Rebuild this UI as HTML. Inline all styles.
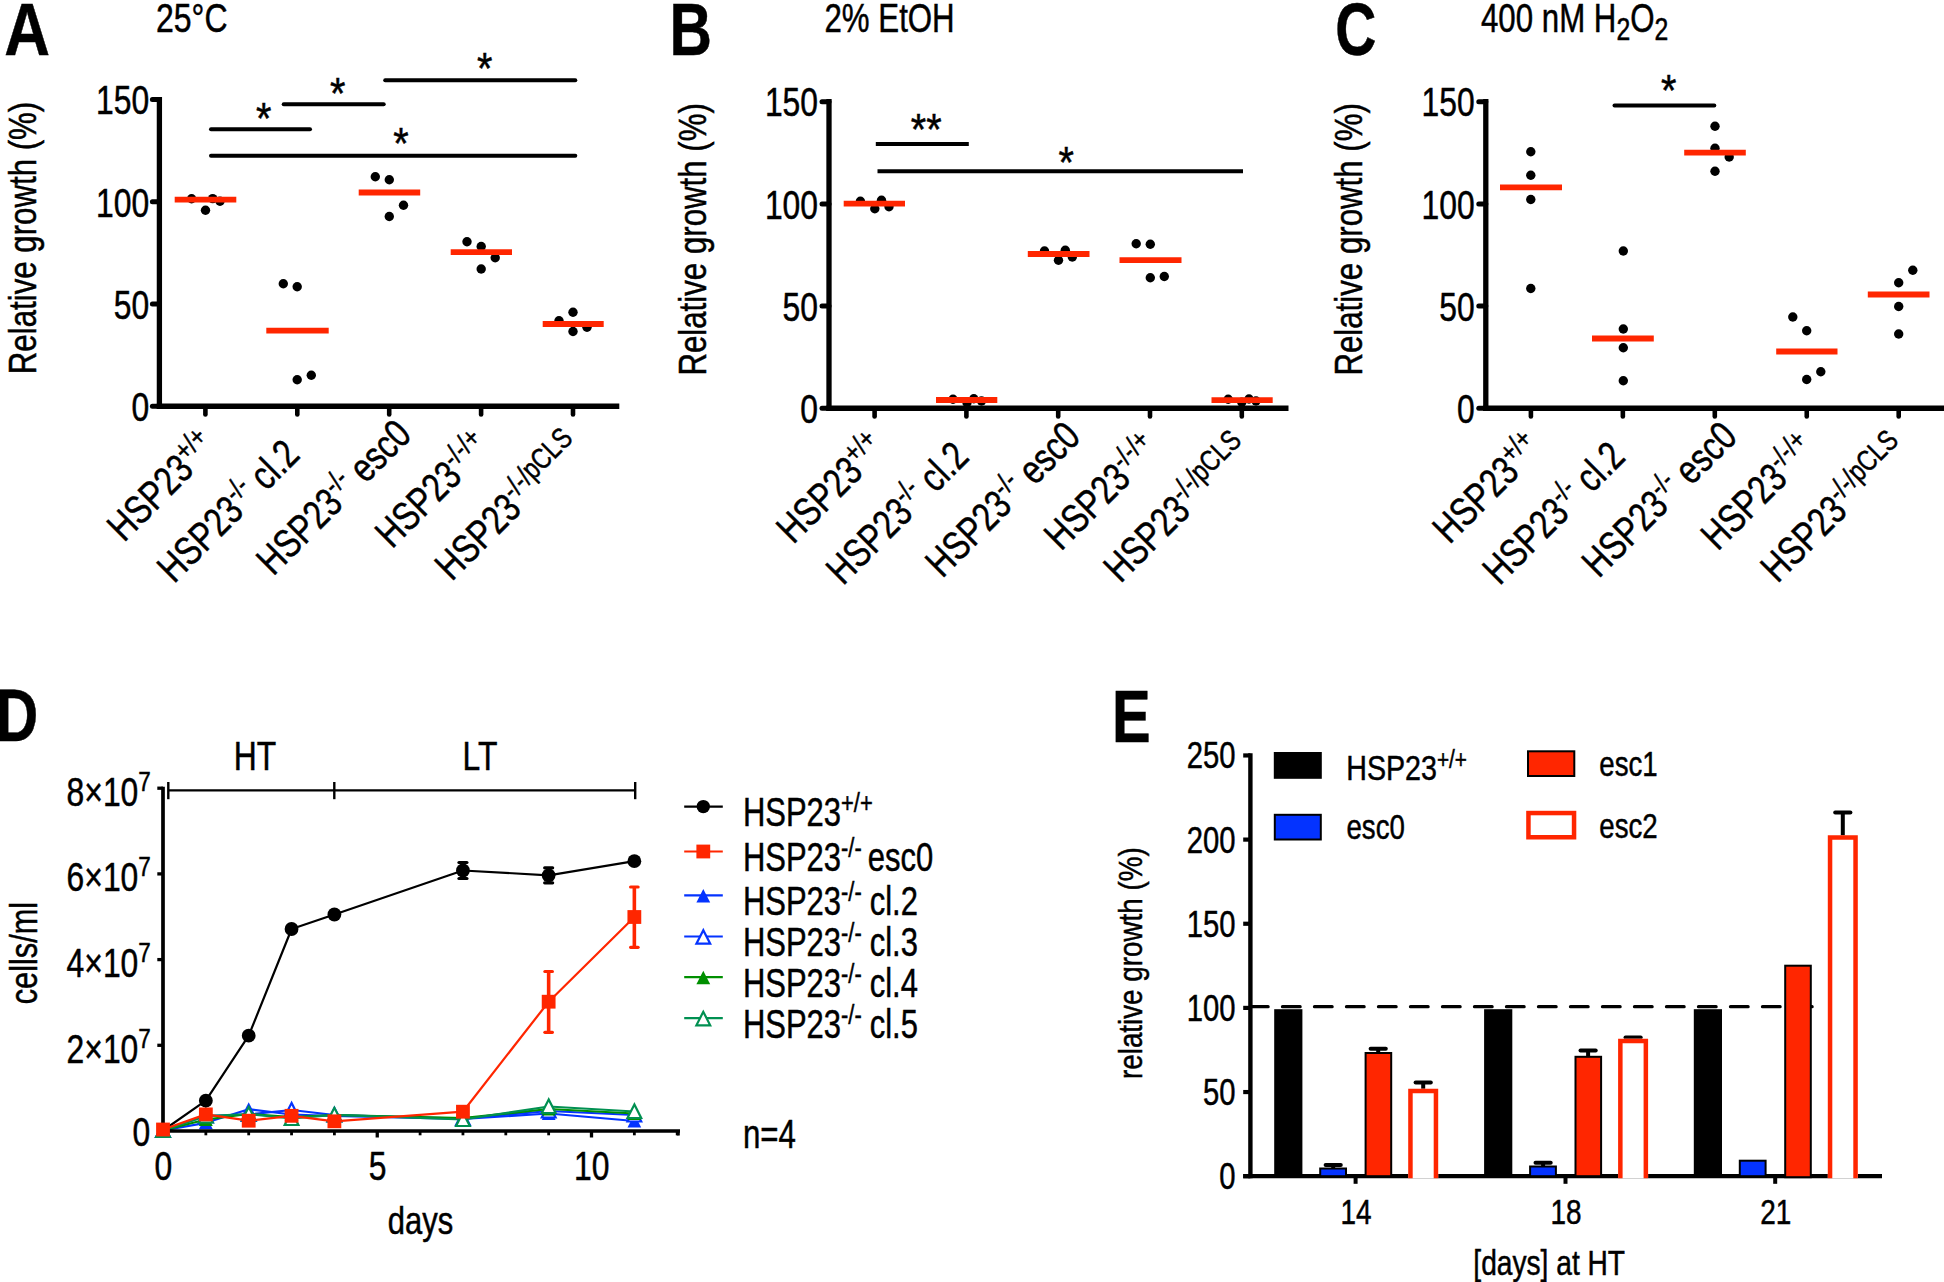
<!DOCTYPE html>
<html><head><meta charset="utf-8"><title>Figure</title>
<style>
html,body{margin:0;padding:0;background:#fff}
svg{display:block}
text{font-family:"Liberation Sans",Arial,Helvetica,sans-serif;fill:#000;stroke:#000;stroke-width:0.5px}
</style></head>
<body>
<svg width="1944" height="1282" viewBox="0 0 1944 1282">
<rect width="1944" height="1282" fill="#fff"/>
<text transform="translate(4.20 54.70) scale(0.848 1)" font-size="74.7" font-weight="bold">A</text>
<text transform="translate(156.00 31.70) scale(0.795 1)" font-size="40.3">25°C</text>
<line x1="159.40" y1="97.00" x2="159.40" y2="408.80" stroke="#000" stroke-width="5.3" stroke-linecap="butt"/>
<line x1="152.40" y1="406.20" x2="159.40" y2="406.20" stroke="#000" stroke-width="5" stroke-linecap="round"/>
<text transform="translate(149.20 420.90) scale(0.79 1)" font-size="40.3" text-anchor="end">0</text>
<line x1="152.40" y1="304.00" x2="159.40" y2="304.00" stroke="#000" stroke-width="5" stroke-linecap="round"/>
<text transform="translate(149.20 318.70) scale(0.79 1)" font-size="40.3" text-anchor="end">50</text>
<line x1="152.40" y1="201.80" x2="159.40" y2="201.80" stroke="#000" stroke-width="5" stroke-linecap="round"/>
<text transform="translate(149.20 216.50) scale(0.79 1)" font-size="40.3" text-anchor="end">100</text>
<line x1="152.40" y1="99.60" x2="159.40" y2="99.60" stroke="#000" stroke-width="5" stroke-linecap="round"/>
<text transform="translate(149.20 114.30) scale(0.79 1)" font-size="40.3" text-anchor="end">150</text>
<line x1="156.80" y1="406.20" x2="619.30" y2="406.20" stroke="#000" stroke-width="5.4" stroke-linecap="butt"/>
<line x1="205.40" y1="406.20" x2="205.40" y2="414.40" stroke="#000" stroke-width="4.6" stroke-linecap="round"/>
<text transform="translate(124.00 542.90) rotate(-45) scale(0.79 1)" font-size="40.3">HSP23<tspan font-size="28.5" dy="-14">+/+</tspan></text>
<line x1="297.30" y1="406.20" x2="297.30" y2="414.40" stroke="#000" stroke-width="4.6" stroke-linecap="round"/>
<text transform="translate(174.00 584.20) rotate(-45) scale(0.79 1)" font-size="40.3">HSP23<tspan font-size="28.5" dy="-14">-/-</tspan><tspan dy="14"> cl.2</tspan></text>
<line x1="389.20" y1="406.20" x2="389.20" y2="414.40" stroke="#000" stroke-width="4.6" stroke-linecap="round"/>
<text transform="translate(273.20 576.80) rotate(-45) scale(0.79 1)" font-size="40.3">HSP23<tspan font-size="28.5" dy="-14">-/-</tspan><tspan dy="14"> esc0</tspan></text>
<line x1="481.10" y1="406.20" x2="481.10" y2="414.40" stroke="#000" stroke-width="4.6" stroke-linecap="round"/>
<text transform="translate(392.10 549.60) rotate(-45) scale(0.79 1)" font-size="40.3">HSP23<tspan font-size="28.5" dy="-14">-/-/+</tspan></text>
<line x1="573.00" y1="406.20" x2="573.00" y2="414.40" stroke="#000" stroke-width="4.6" stroke-linecap="round"/>
<text transform="translate(451.80 582.00) rotate(-45) scale(0.79 1)" font-size="40.3">HSP23<tspan font-size="29.3" dy="-14">-/-/pCLS</tspan></text>
<text transform="translate(36.30 374.20) rotate(-90) scale(0.807 1)" font-size="38.7">Relative growth (%)</text>
<circle cx="191.60" cy="198.80" r="4.7" fill="#000"/>
<circle cx="212.70" cy="198.60" r="4.7" fill="#000"/>
<circle cx="220.00" cy="201.20" r="4.7" fill="#000"/>
<circle cx="205.50" cy="210.30" r="4.7" fill="#000"/>
<line x1="174.70" y1="199.60" x2="236.30" y2="199.60" stroke="#ff2600" stroke-width="5.8" stroke-linecap="butt"/>
<circle cx="283.30" cy="283.70" r="4.7" fill="#000"/>
<circle cx="297.20" cy="286.80" r="4.7" fill="#000"/>
<circle cx="297.20" cy="379.80" r="4.7" fill="#000"/>
<circle cx="311.30" cy="375.30" r="4.7" fill="#000"/>
<line x1="266.30" y1="330.70" x2="328.70" y2="330.70" stroke="#ff2600" stroke-width="5.8" stroke-linecap="butt"/>
<circle cx="375.30" cy="176.70" r="4.7" fill="#000"/>
<circle cx="389.30" cy="179.70" r="4.7" fill="#000"/>
<circle cx="403.50" cy="205.30" r="4.7" fill="#000"/>
<circle cx="389.30" cy="216.50" r="4.7" fill="#000"/>
<line x1="358.70" y1="192.50" x2="420.20" y2="192.50" stroke="#ff2600" stroke-width="5.8" stroke-linecap="butt"/>
<circle cx="467.00" cy="241.80" r="4.7" fill="#000"/>
<circle cx="481.20" cy="246.50" r="4.7" fill="#000"/>
<circle cx="495.20" cy="257.80" r="4.7" fill="#000"/>
<circle cx="481.20" cy="269.00" r="4.7" fill="#000"/>
<line x1="450.70" y1="252.20" x2="512.00" y2="252.20" stroke="#ff2600" stroke-width="5.8" stroke-linecap="butt"/>
<circle cx="559.00" cy="320.70" r="4.7" fill="#000"/>
<circle cx="573.00" cy="312.30" r="4.7" fill="#000"/>
<circle cx="587.00" cy="327.30" r="4.7" fill="#000"/>
<circle cx="573.00" cy="331.50" r="4.7" fill="#000"/>
<line x1="542.70" y1="324.00" x2="603.70" y2="324.00" stroke="#ff2600" stroke-width="5.8" stroke-linecap="butt"/>
<line x1="211.00" y1="129.30" x2="310.00" y2="129.30" stroke="#000" stroke-width="4" stroke-linecap="round"/>
<line x1="283.70" y1="104.20" x2="383.70" y2="104.20" stroke="#000" stroke-width="4" stroke-linecap="round"/>
<line x1="385.20" y1="80.30" x2="575.30" y2="80.30" stroke="#000" stroke-width="4" stroke-linecap="round"/>
<line x1="211.00" y1="155.70" x2="575.30" y2="155.70" stroke="#000" stroke-width="4" stroke-linecap="round"/>
<text transform="translate(263.70 133.50) scale(0.88 1)" font-size="45" text-anchor="middle">*</text>
<text transform="translate(337.80 109.30) scale(0.88 1)" font-size="45" text-anchor="middle">*</text>
<text transform="translate(484.80 83.50) scale(0.88 1)" font-size="45" text-anchor="middle">*</text>
<text transform="translate(401.00 159.00) scale(0.88 1)" font-size="45" text-anchor="middle">*</text>
<text transform="translate(669.40 54.70) scale(0.787 1)" font-size="74.7" font-weight="bold">B</text>
<text transform="translate(824.50 31.70) scale(0.775 1)" font-size="40.3">2% EtOH</text>
<line x1="829.00" y1="99.10" x2="829.00" y2="410.90" stroke="#000" stroke-width="5.3" stroke-linecap="butt"/>
<line x1="822.00" y1="408.30" x2="829.00" y2="408.30" stroke="#000" stroke-width="5" stroke-linecap="round"/>
<text transform="translate(818.00 423.00) scale(0.79 1)" font-size="40.3" text-anchor="end">0</text>
<line x1="822.00" y1="306.10" x2="829.00" y2="306.10" stroke="#000" stroke-width="5" stroke-linecap="round"/>
<text transform="translate(818.00 320.80) scale(0.79 1)" font-size="40.3" text-anchor="end">50</text>
<line x1="822.00" y1="203.90" x2="829.00" y2="203.90" stroke="#000" stroke-width="5" stroke-linecap="round"/>
<text transform="translate(818.00 218.60) scale(0.79 1)" font-size="40.3" text-anchor="end">100</text>
<line x1="822.00" y1="101.70" x2="829.00" y2="101.70" stroke="#000" stroke-width="5" stroke-linecap="round"/>
<text transform="translate(818.00 116.40) scale(0.79 1)" font-size="40.3" text-anchor="end">150</text>
<line x1="826.40" y1="408.30" x2="1288.50" y2="408.30" stroke="#000" stroke-width="5.4" stroke-linecap="butt"/>
<line x1="874.60" y1="408.30" x2="874.60" y2="416.50" stroke="#000" stroke-width="4.6" stroke-linecap="round"/>
<text transform="translate(793.20 545.00) rotate(-45) scale(0.79 1)" font-size="40.3">HSP23<tspan font-size="28.5" dy="-14">+/+</tspan></text>
<line x1="966.40" y1="408.30" x2="966.40" y2="416.50" stroke="#000" stroke-width="4.6" stroke-linecap="round"/>
<text transform="translate(843.10 586.30) rotate(-45) scale(0.79 1)" font-size="40.3">HSP23<tspan font-size="28.5" dy="-14">-/-</tspan><tspan dy="14"> cl.2</tspan></text>
<line x1="1058.20" y1="408.30" x2="1058.20" y2="416.50" stroke="#000" stroke-width="4.6" stroke-linecap="round"/>
<text transform="translate(942.20 578.90) rotate(-45) scale(0.79 1)" font-size="40.3">HSP23<tspan font-size="28.5" dy="-14">-/-</tspan><tspan dy="14"> esc0</tspan></text>
<line x1="1150.00" y1="408.30" x2="1150.00" y2="416.50" stroke="#000" stroke-width="4.6" stroke-linecap="round"/>
<text transform="translate(1061.00 551.70) rotate(-45) scale(0.79 1)" font-size="40.3">HSP23<tspan font-size="28.5" dy="-14">-/-/+</tspan></text>
<line x1="1241.80" y1="408.30" x2="1241.80" y2="416.50" stroke="#000" stroke-width="4.6" stroke-linecap="round"/>
<text transform="translate(1120.60 584.10) rotate(-45) scale(0.79 1)" font-size="40.3">HSP23<tspan font-size="29.3" dy="-14">-/-/pCLS</tspan></text>
<text transform="translate(705.50 375.60) rotate(-90) scale(0.807 1)" font-size="38.7">Relative growth (%)</text>
<circle cx="860.40" cy="201.30" r="4.7" fill="#000"/>
<circle cx="881.50" cy="200.30" r="4.7" fill="#000"/>
<circle cx="874.80" cy="208.70" r="4.7" fill="#000"/>
<circle cx="889.00" cy="206.70" r="4.7" fill="#000"/>
<line x1="843.70" y1="203.70" x2="905.00" y2="203.70" stroke="#ff2600" stroke-width="5.8" stroke-linecap="butt"/>
<circle cx="953.00" cy="399.30" r="4.7" fill="#000"/>
<circle cx="973.80" cy="398.70" r="4.7" fill="#000"/>
<circle cx="967.00" cy="402.70" r="4.7" fill="#000"/>
<circle cx="981.50" cy="401.00" r="4.7" fill="#000"/>
<line x1="936.00" y1="400.00" x2="997.30" y2="400.00" stroke="#ff2600" stroke-width="5.8" stroke-linecap="butt"/>
<circle cx="1044.50" cy="251.00" r="4.7" fill="#000"/>
<circle cx="1065.30" cy="250.30" r="4.7" fill="#000"/>
<circle cx="1058.50" cy="260.30" r="4.7" fill="#000"/>
<circle cx="1072.30" cy="257.00" r="4.7" fill="#000"/>
<line x1="1027.80" y1="254.00" x2="1089.50" y2="254.00" stroke="#ff2600" stroke-width="5.8" stroke-linecap="butt"/>
<circle cx="1136.20" cy="243.70" r="4.7" fill="#000"/>
<circle cx="1150.30" cy="244.30" r="4.7" fill="#000"/>
<circle cx="1150.30" cy="277.70" r="4.7" fill="#000"/>
<circle cx="1164.30" cy="276.50" r="4.7" fill="#000"/>
<line x1="1119.50" y1="260.20" x2="1181.50" y2="260.20" stroke="#ff2600" stroke-width="5.8" stroke-linecap="butt"/>
<circle cx="1228.20" cy="399.30" r="4.7" fill="#000"/>
<circle cx="1249.00" cy="399.00" r="4.7" fill="#000"/>
<circle cx="1241.80" cy="402.30" r="4.7" fill="#000"/>
<circle cx="1256.00" cy="401.00" r="4.7" fill="#000"/>
<line x1="1211.50" y1="400.20" x2="1272.70" y2="400.20" stroke="#ff2600" stroke-width="5.8" stroke-linecap="butt"/>
<line x1="875.80" y1="144.10" x2="968.80" y2="144.10" stroke="#000" stroke-width="4" stroke-linecap="butt"/>
<line x1="877.50" y1="171.20" x2="1243.00" y2="171.20" stroke="#000" stroke-width="4" stroke-linecap="butt"/>
<text transform="translate(926.20 145.00) scale(0.88 1)" font-size="45" text-anchor="middle">**</text>
<text transform="translate(1066.10 177.60) scale(0.88 1)" font-size="45" text-anchor="middle">*</text>
<text transform="translate(1335.20 54.90) scale(0.761 1)" font-size="74.7" font-weight="bold">C</text>
<text transform="translate(1481.00 31.70) scale(0.775 1)" font-size="40.3">400 nM H<tspan font-size="32" dy="8">2</tspan><tspan dy="-8">O</tspan><tspan font-size="32" dy="8">2</tspan></text>
<line x1="1485.80" y1="99.10" x2="1485.80" y2="410.90" stroke="#000" stroke-width="5.3" stroke-linecap="butt"/>
<line x1="1478.80" y1="408.30" x2="1485.80" y2="408.30" stroke="#000" stroke-width="5" stroke-linecap="round"/>
<text transform="translate(1474.70 423.00) scale(0.79 1)" font-size="40.3" text-anchor="end">0</text>
<line x1="1478.80" y1="306.10" x2="1485.80" y2="306.10" stroke="#000" stroke-width="5" stroke-linecap="round"/>
<text transform="translate(1474.70 320.80) scale(0.79 1)" font-size="40.3" text-anchor="end">50</text>
<line x1="1478.80" y1="203.90" x2="1485.80" y2="203.90" stroke="#000" stroke-width="5" stroke-linecap="round"/>
<text transform="translate(1474.70 218.60) scale(0.79 1)" font-size="40.3" text-anchor="end">100</text>
<line x1="1478.80" y1="101.70" x2="1485.80" y2="101.70" stroke="#000" stroke-width="5" stroke-linecap="round"/>
<text transform="translate(1474.70 116.40) scale(0.79 1)" font-size="40.3" text-anchor="end">150</text>
<line x1="1483.20" y1="408.30" x2="1950.00" y2="408.30" stroke="#000" stroke-width="5.4" stroke-linecap="butt"/>
<line x1="1530.90" y1="408.30" x2="1530.90" y2="416.50" stroke="#000" stroke-width="4.6" stroke-linecap="round"/>
<text transform="translate(1449.50 545.00) rotate(-45) scale(0.79 1)" font-size="40.3">HSP23<tspan font-size="28.5" dy="-14">+/+</tspan></text>
<line x1="1622.85" y1="408.30" x2="1622.85" y2="416.50" stroke="#000" stroke-width="4.6" stroke-linecap="round"/>
<text transform="translate(1499.55 586.30) rotate(-45) scale(0.79 1)" font-size="40.3">HSP23<tspan font-size="28.5" dy="-14">-/-</tspan><tspan dy="14"> cl.2</tspan></text>
<line x1="1714.80" y1="408.30" x2="1714.80" y2="416.50" stroke="#000" stroke-width="4.6" stroke-linecap="round"/>
<text transform="translate(1598.80 578.90) rotate(-45) scale(0.79 1)" font-size="40.3">HSP23<tspan font-size="28.5" dy="-14">-/-</tspan><tspan dy="14"> esc0</tspan></text>
<line x1="1806.75" y1="408.30" x2="1806.75" y2="416.50" stroke="#000" stroke-width="4.6" stroke-linecap="round"/>
<text transform="translate(1717.75 551.70) rotate(-45) scale(0.79 1)" font-size="40.3">HSP23<tspan font-size="28.5" dy="-14">-/-/+</tspan></text>
<line x1="1898.70" y1="408.30" x2="1898.70" y2="416.50" stroke="#000" stroke-width="4.6" stroke-linecap="round"/>
<text transform="translate(1777.50 584.10) rotate(-45) scale(0.79 1)" font-size="40.3">HSP23<tspan font-size="29.3" dy="-14">-/-/pCLS</tspan></text>
<text transform="translate(1361.80 375.60) rotate(-90) scale(0.807 1)" font-size="38.7">Relative growth (%)</text>
<circle cx="1530.80" cy="151.70" r="4.7" fill="#000"/>
<circle cx="1530.80" cy="175.30" r="4.7" fill="#000"/>
<circle cx="1530.80" cy="199.50" r="4.7" fill="#000"/>
<circle cx="1530.80" cy="288.50" r="4.7" fill="#000"/>
<line x1="1500.00" y1="187.30" x2="1562.00" y2="187.30" stroke="#ff2600" stroke-width="5.8" stroke-linecap="butt"/>
<circle cx="1623.30" cy="251.00" r="4.7" fill="#000"/>
<circle cx="1623.30" cy="329.00" r="4.7" fill="#000"/>
<circle cx="1623.30" cy="347.80" r="4.7" fill="#000"/>
<circle cx="1623.30" cy="380.70" r="4.7" fill="#000"/>
<line x1="1592.00" y1="338.50" x2="1653.80" y2="338.50" stroke="#ff2600" stroke-width="5.8" stroke-linecap="butt"/>
<circle cx="1715.00" cy="126.30" r="4.7" fill="#000"/>
<circle cx="1715.00" cy="148.30" r="4.7" fill="#000"/>
<circle cx="1729.20" cy="157.00" r="4.7" fill="#000"/>
<circle cx="1715.00" cy="171.20" r="4.7" fill="#000"/>
<line x1="1684.20" y1="152.70" x2="1745.80" y2="152.70" stroke="#ff2600" stroke-width="5.8" stroke-linecap="butt"/>
<circle cx="1792.80" cy="317.00" r="4.7" fill="#000"/>
<circle cx="1806.70" cy="330.70" r="4.7" fill="#000"/>
<circle cx="1820.80" cy="371.80" r="4.7" fill="#000"/>
<circle cx="1806.70" cy="379.50" r="4.7" fill="#000"/>
<line x1="1776.20" y1="351.50" x2="1837.50" y2="351.50" stroke="#ff2600" stroke-width="5.8" stroke-linecap="butt"/>
<circle cx="1912.80" cy="270.30" r="4.7" fill="#000"/>
<circle cx="1898.70" cy="282.70" r="4.7" fill="#000"/>
<circle cx="1898.70" cy="306.50" r="4.7" fill="#000"/>
<circle cx="1898.70" cy="334.00" r="4.7" fill="#000"/>
<line x1="1867.80" y1="294.50" x2="1929.50" y2="294.50" stroke="#ff2600" stroke-width="5.8" stroke-linecap="butt"/>
<line x1="1614.50" y1="105.50" x2="1714.30" y2="105.50" stroke="#000" stroke-width="4" stroke-linecap="round"/>
<text transform="translate(1668.70 106.00) scale(0.88 1)" font-size="45" text-anchor="middle">*</text>
<text transform="translate(-4.20 741.30) scale(0.787 1)" font-size="74.7" font-weight="bold">D</text>
<line x1="168.30" y1="790.40" x2="635.20" y2="790.40" stroke="#000" stroke-width="2.4" stroke-linecap="butt"/>
<line x1="168.30" y1="782.00" x2="168.30" y2="799.20" stroke="#000" stroke-width="2.4" stroke-linecap="butt"/>
<line x1="334.30" y1="782.00" x2="334.30" y2="799.20" stroke="#000" stroke-width="2.4" stroke-linecap="butt"/>
<line x1="635.20" y1="782.00" x2="635.20" y2="799.20" stroke="#000" stroke-width="2.4" stroke-linecap="butt"/>
<text transform="translate(255.00 770.00) scale(0.79 1)" font-size="40.3" text-anchor="middle">HT</text>
<text transform="translate(480.00 770.00) scale(0.79 1)" font-size="40.3" text-anchor="middle">LT</text>
<text transform="translate(36.60 1004.30) rotate(-90) scale(0.805 1)" font-size="38.2">cells/ml</text>
<polyline fill="none" stroke="#0433ff" stroke-width="2.2" stroke-linejoin="round" points="163.0,1130.5 205.8,1122.8 248.7,1109.2 291.6,1114.5 334.4,1116.0 462.9,1119.0 548.7,1113.5 634.4,1121.0"/>
<polygon points="163.0,1123.5 156.1,1137.0 169.9,1137.0" fill="#0433ff"/>
<polygon points="205.8,1115.8 198.9,1129.3 212.8,1129.3" fill="#0433ff"/>
<polygon points="248.7,1102.2 241.8,1115.7 255.6,1115.7" fill="#0433ff"/>
<polygon points="291.6,1107.5 284.7,1121.0 298.4,1121.0" fill="#0433ff"/>
<polygon points="334.4,1109.0 327.5,1122.5 341.3,1122.5" fill="#0433ff"/>
<polygon points="462.9,1112.0 456.1,1125.5 469.8,1125.5" fill="#0433ff"/>
<polygon points="548.7,1106.5 541.8,1120.0 555.6,1120.0" fill="#0433ff"/>
<polygon points="634.4,1114.0 627.5,1127.5 641.2,1127.5" fill="#0433ff"/>
<polyline fill="none" stroke="#0433ff" stroke-width="2.2" stroke-linejoin="round" points="163.0,1130.5 205.8,1116.0 248.7,1114.5 291.6,1110.0 334.4,1115.0 462.9,1118.5 548.7,1111.0 634.4,1115.0"/>
<polygon points="163.0,1123.5 156.1,1137.0 169.9,1137.0" fill="#fff" stroke="#0433ff" stroke-width="2.2" stroke-linejoin="miter"/>
<polygon points="205.8,1109.0 198.9,1122.5 212.8,1122.5" fill="#fff" stroke="#0433ff" stroke-width="2.2" stroke-linejoin="miter"/>
<polygon points="248.7,1107.5 241.8,1121.0 255.6,1121.0" fill="#fff" stroke="#0433ff" stroke-width="2.2" stroke-linejoin="miter"/>
<polygon points="291.6,1103.0 284.7,1116.5 298.4,1116.5" fill="#fff" stroke="#0433ff" stroke-width="2.2" stroke-linejoin="miter"/>
<polygon points="334.4,1108.0 327.5,1121.5 341.3,1121.5" fill="#fff" stroke="#0433ff" stroke-width="2.2" stroke-linejoin="miter"/>
<polygon points="462.9,1111.5 456.1,1125.0 469.8,1125.0" fill="#fff" stroke="#0433ff" stroke-width="2.2" stroke-linejoin="miter"/>
<polygon points="548.7,1104.0 541.8,1117.5 555.6,1117.5" fill="#fff" stroke="#0433ff" stroke-width="2.2" stroke-linejoin="miter"/>
<polygon points="634.4,1108.0 627.5,1121.5 641.2,1121.5" fill="#fff" stroke="#0433ff" stroke-width="2.2" stroke-linejoin="miter"/>
<polyline fill="none" stroke="#008f00" stroke-width="2.2" stroke-linejoin="round" points="163.0,1130.5 205.8,1119.5 248.7,1114.0 291.6,1117.0 334.4,1115.0 462.9,1118.0 548.7,1109.0 634.4,1113.5"/>
<polygon points="163.0,1123.5 156.1,1137.0 169.9,1137.0" fill="#008f00"/>
<polygon points="205.8,1112.5 198.9,1126.0 212.8,1126.0" fill="#008f00"/>
<polygon points="248.7,1107.0 241.8,1120.5 255.6,1120.5" fill="#008f00"/>
<polygon points="291.6,1110.0 284.7,1123.5 298.4,1123.5" fill="#008f00"/>
<polygon points="334.4,1108.0 327.5,1121.5 341.3,1121.5" fill="#008f00"/>
<polygon points="462.9,1111.0 456.1,1124.5 469.8,1124.5" fill="#008f00"/>
<polygon points="548.7,1102.0 541.8,1115.5 555.6,1115.5" fill="#008f00"/>
<polygon points="634.4,1106.5 627.5,1120.0 641.2,1120.0" fill="#008f00"/>
<polyline fill="none" stroke="#009051" stroke-width="2.2" stroke-linejoin="round" points="163.0,1130.5 205.8,1116.0 248.7,1114.0 291.6,1118.5 334.4,1114.8 462.9,1119.5 548.7,1106.5 634.4,1111.5"/>
<polygon points="163.0,1123.5 156.1,1137.0 169.9,1137.0" fill="#fff" stroke="#009051" stroke-width="2.2" stroke-linejoin="miter"/>
<polygon points="205.8,1109.0 198.9,1122.5 212.8,1122.5" fill="#fff" stroke="#009051" stroke-width="2.2" stroke-linejoin="miter"/>
<polygon points="248.7,1107.0 241.8,1120.5 255.6,1120.5" fill="#fff" stroke="#009051" stroke-width="2.2" stroke-linejoin="miter"/>
<polygon points="291.6,1111.5 284.7,1125.0 298.4,1125.0" fill="#fff" stroke="#009051" stroke-width="2.2" stroke-linejoin="miter"/>
<polygon points="334.4,1107.8 327.5,1121.3 341.3,1121.3" fill="#fff" stroke="#009051" stroke-width="2.2" stroke-linejoin="miter"/>
<polygon points="462.9,1112.5 456.1,1126.0 469.8,1126.0" fill="#fff" stroke="#009051" stroke-width="2.2" stroke-linejoin="miter"/>
<polygon points="548.7,1099.5 541.8,1113.0 555.6,1113.0" fill="#fff" stroke="#009051" stroke-width="2.2" stroke-linejoin="miter"/>
<polygon points="634.4,1104.5 627.5,1118.0 641.2,1118.0" fill="#fff" stroke="#009051" stroke-width="2.2" stroke-linejoin="miter"/>
<line x1="163.00" y1="786.70" x2="163.00" y2="1132.70" stroke="#000" stroke-width="3.7" stroke-linecap="butt"/>
<text transform="translate(150.30 1146.00) scale(0.79 1)" font-size="40.3" text-anchor="end">0</text>
<line x1="157.30" y1="1045.30" x2="163.00" y2="1045.30" stroke="#000" stroke-width="3.3" stroke-linecap="butt"/>
<text transform="translate(150.80 1062.60) scale(0.79 1)" font-size="40.3" text-anchor="end">2×10<tspan font-size="28.5" dy="-15">7</tspan></text>
<line x1="157.30" y1="959.60" x2="163.00" y2="959.60" stroke="#000" stroke-width="3.3" stroke-linecap="butt"/>
<text transform="translate(150.80 976.90) scale(0.79 1)" font-size="40.3" text-anchor="end">4×10<tspan font-size="28.5" dy="-15">7</tspan></text>
<line x1="157.30" y1="873.90" x2="163.00" y2="873.90" stroke="#000" stroke-width="3.3" stroke-linecap="butt"/>
<text transform="translate(150.80 891.20) scale(0.79 1)" font-size="40.3" text-anchor="end">6×10<tspan font-size="28.5" dy="-15">7</tspan></text>
<line x1="157.30" y1="788.20" x2="163.00" y2="788.20" stroke="#000" stroke-width="3.3" stroke-linecap="butt"/>
<text transform="translate(150.80 805.50) scale(0.79 1)" font-size="40.3" text-anchor="end">8×10<tspan font-size="28.5" dy="-15">7</tspan></text>
<line x1="161.20" y1="1131.00" x2="680.00" y2="1131.00" stroke="#000" stroke-width="3.4" stroke-linecap="butt"/>
<line x1="205.85" y1="1131.00" x2="205.85" y2="1135.30" stroke="#000" stroke-width="2.8" stroke-linecap="butt"/>
<line x1="248.70" y1="1131.00" x2="248.70" y2="1135.30" stroke="#000" stroke-width="2.8" stroke-linecap="butt"/>
<line x1="291.55" y1="1131.00" x2="291.55" y2="1135.30" stroke="#000" stroke-width="2.8" stroke-linecap="butt"/>
<line x1="334.40" y1="1131.00" x2="334.40" y2="1135.30" stroke="#000" stroke-width="2.8" stroke-linecap="butt"/>
<line x1="377.25" y1="1131.00" x2="377.25" y2="1137.50" stroke="#000" stroke-width="3.3" stroke-linecap="butt"/>
<line x1="420.10" y1="1131.00" x2="420.10" y2="1135.30" stroke="#000" stroke-width="2.8" stroke-linecap="butt"/>
<line x1="462.95" y1="1131.00" x2="462.95" y2="1135.30" stroke="#000" stroke-width="2.8" stroke-linecap="butt"/>
<line x1="505.80" y1="1131.00" x2="505.80" y2="1135.30" stroke="#000" stroke-width="2.8" stroke-linecap="butt"/>
<line x1="548.65" y1="1131.00" x2="548.65" y2="1135.30" stroke="#000" stroke-width="2.8" stroke-linecap="butt"/>
<line x1="591.50" y1="1131.00" x2="591.50" y2="1137.50" stroke="#000" stroke-width="3.3" stroke-linecap="butt"/>
<line x1="634.35" y1="1131.00" x2="634.35" y2="1135.30" stroke="#000" stroke-width="2.8" stroke-linecap="butt"/>
<line x1="677.20" y1="1131.00" x2="677.20" y2="1135.30" stroke="#000" stroke-width="2.8" stroke-linecap="butt"/>
<line x1="678.30" y1="1131.00" x2="678.30" y2="1135.50" stroke="#000" stroke-width="3" stroke-linecap="butt"/>
<text transform="translate(163.30 1180.00) scale(0.79 1)" font-size="40.3" text-anchor="middle">0</text>
<text transform="translate(377.55 1180.00) scale(0.79 1)" font-size="40.3" text-anchor="middle">5</text>
<text transform="translate(591.80 1180.00) scale(0.79 1)" font-size="40.3" text-anchor="middle">10</text>
<text transform="translate(420.50 1233.60) scale(0.805 1)" font-size="38.5" text-anchor="middle">days</text>
<polyline fill="none" stroke="#000" stroke-width="2.2" stroke-linejoin="round" points="163.0,1130.5 205.8,1100.7 248.7,1035.7 291.6,929.0 334.4,914.5 462.9,870.5 548.7,875.3 634.4,861.2"/>
<line x1="462.95" y1="862.50" x2="462.95" y2="878.50" stroke="#000" stroke-width="3" stroke-linecap="butt"/>
<line x1="458.95" y1="862.50" x2="466.95" y2="862.50" stroke="#000" stroke-width="3.2" stroke-linecap="round"/>
<line x1="458.95" y1="878.50" x2="466.95" y2="878.50" stroke="#000" stroke-width="3.2" stroke-linecap="round"/>
<line x1="548.65" y1="867.80" x2="548.65" y2="882.80" stroke="#000" stroke-width="3" stroke-linecap="butt"/>
<line x1="544.65" y1="867.80" x2="552.65" y2="867.80" stroke="#000" stroke-width="3.2" stroke-linecap="round"/>
<line x1="544.65" y1="882.80" x2="552.65" y2="882.80" stroke="#000" stroke-width="3.2" stroke-linecap="round"/>
<circle cx="205.85" cy="1100.70" r="6.9" fill="#000"/>
<circle cx="248.70" cy="1035.70" r="6.9" fill="#000"/>
<circle cx="291.55" cy="929.00" r="6.9" fill="#000"/>
<circle cx="334.40" cy="914.50" r="6.9" fill="#000"/>
<circle cx="462.95" cy="870.50" r="6.9" fill="#000"/>
<circle cx="548.65" cy="875.30" r="6.9" fill="#000"/>
<circle cx="634.35" cy="861.20" r="6.9" fill="#000"/>
<polyline fill="none" stroke="#ff2600" stroke-width="2.2" stroke-linejoin="round" points="163.0,1129.5 205.8,1114.4 248.7,1120.7 291.6,1115.8 334.4,1121.3 462.9,1111.7 548.7,1001.7 634.4,917.0"/>
<line x1="548.65" y1="971.50" x2="548.65" y2="1032.30" stroke="#ff2600" stroke-width="3.6" stroke-linecap="butt"/>
<line x1="544.90" y1="971.50" x2="552.40" y2="971.50" stroke="#ff2600" stroke-width="3.2" stroke-linecap="round"/>
<line x1="544.90" y1="1032.30" x2="552.40" y2="1032.30" stroke="#ff2600" stroke-width="3.2" stroke-linecap="round"/>
<line x1="634.35" y1="887.00" x2="634.35" y2="947.30" stroke="#ff2600" stroke-width="3.6" stroke-linecap="butt"/>
<line x1="630.60" y1="887.00" x2="638.10" y2="887.00" stroke="#ff2600" stroke-width="3.2" stroke-linecap="round"/>
<line x1="630.60" y1="947.30" x2="638.10" y2="947.30" stroke="#ff2600" stroke-width="3.2" stroke-linecap="round"/>
<rect x="156.10" y="1122.60" width="13.80" height="13.80" fill="#ff2600"/>
<rect x="198.95" y="1107.50" width="13.80" height="13.80" fill="#ff2600"/>
<rect x="241.80" y="1113.80" width="13.80" height="13.80" fill="#ff2600"/>
<rect x="284.65" y="1108.90" width="13.80" height="13.80" fill="#ff2600"/>
<rect x="327.50" y="1114.40" width="13.80" height="13.80" fill="#ff2600"/>
<rect x="456.05" y="1104.80" width="13.80" height="13.80" fill="#ff2600"/>
<rect x="541.75" y="994.80" width="13.80" height="13.80" fill="#ff2600"/>
<rect x="627.45" y="910.10" width="13.80" height="13.80" fill="#ff2600"/>
<line x1="684.20" y1="806.60" x2="722.80" y2="806.60" stroke="#000" stroke-width="2.2" stroke-linecap="butt"/>
<circle cx="703.30" cy="806.60" r="6.7" fill="#000"/>
<text transform="translate(743.00 826.10) scale(0.768 1)" font-size="40.3">HSP23<tspan font-size="28.5" dy="-14">+/+</tspan></text>
<line x1="684.20" y1="851.50" x2="722.80" y2="851.50" stroke="#ff2600" stroke-width="2.2" stroke-linecap="butt"/>
<rect x="696.40" y="844.60" width="13.80" height="13.80" fill="#ff2600"/>
<text transform="translate(743.00 871.00) scale(0.768 1)" font-size="40.3">HSP23<tspan font-size="28.5" dy="-14">-/- </tspan><tspan dy="14">esc0</tspan></text>
<line x1="684.20" y1="895.30" x2="722.80" y2="895.30" stroke="#0433ff" stroke-width="2.2" stroke-linecap="butt"/>
<polygon points="703.3,889.0 696.4,902.5 710.2,902.5" fill="#0433ff"/>
<text transform="translate(743.00 914.80) scale(0.768 1)" font-size="40.3">HSP23<tspan font-size="28.5" dy="-14">-/- </tspan><tspan dy="14" dx="2.6">cl.2</tspan></text>
<line x1="684.20" y1="936.50" x2="722.80" y2="936.50" stroke="#0433ff" stroke-width="2.2" stroke-linecap="butt"/>
<polygon points="703.3,930.2 696.4,943.7 710.2,943.7" fill="#fff" stroke="#0433ff" stroke-width="2.2" stroke-linejoin="miter"/>
<text transform="translate(743.00 956.00) scale(0.768 1)" font-size="40.3">HSP23<tspan font-size="28.5" dy="-14">-/- </tspan><tspan dy="14" dx="2.6">cl.3</tspan></text>
<line x1="684.20" y1="977.10" x2="722.80" y2="977.10" stroke="#008f00" stroke-width="2.2" stroke-linecap="butt"/>
<polygon points="703.3,970.8 696.4,984.3 710.2,984.3" fill="#008f00"/>
<text transform="translate(743.00 996.60) scale(0.768 1)" font-size="40.3">HSP23<tspan font-size="28.5" dy="-14">-/- </tspan><tspan dy="14" dx="2.6">cl.4</tspan></text>
<line x1="684.20" y1="1018.10" x2="722.80" y2="1018.10" stroke="#009051" stroke-width="2.2" stroke-linecap="butt"/>
<polygon points="703.3,1011.8 696.4,1025.3 710.2,1025.3" fill="#fff" stroke="#009051" stroke-width="2.2" stroke-linejoin="miter"/>
<text transform="translate(743.00 1037.60) scale(0.768 1)" font-size="40.3">HSP23<tspan font-size="28.5" dy="-14">-/- </tspan><tspan dy="14" dx="2.6">cl.5</tspan></text>
<text transform="translate(743.00 1148.30) scale(0.775 1)" font-size="40.3">n=4</text>
<text transform="translate(1111.90 742.00) scale(0.776 1)" font-size="74.7" font-weight="bold">E</text>
<line x1="1250.40" y1="753.30" x2="1250.40" y2="1178.20" stroke="#000" stroke-width="4.4" stroke-linecap="butt"/>
<line x1="1243.20" y1="1176.20" x2="1250.40" y2="1176.20" stroke="#000" stroke-width="4.2" stroke-linecap="butt"/>
<text transform="translate(1235.40 1189.10) scale(0.79 1)" font-size="37" text-anchor="end">0</text>
<line x1="1243.20" y1="1092.05" x2="1250.40" y2="1092.05" stroke="#000" stroke-width="4.2" stroke-linecap="butt"/>
<text transform="translate(1235.40 1104.95) scale(0.79 1)" font-size="37" text-anchor="end">50</text>
<line x1="1243.20" y1="1007.90" x2="1250.40" y2="1007.90" stroke="#000" stroke-width="4.2" stroke-linecap="butt"/>
<text transform="translate(1235.40 1020.80) scale(0.79 1)" font-size="37" text-anchor="end">100</text>
<line x1="1243.20" y1="923.75" x2="1250.40" y2="923.75" stroke="#000" stroke-width="4.2" stroke-linecap="butt"/>
<text transform="translate(1235.40 936.65) scale(0.79 1)" font-size="37" text-anchor="end">150</text>
<line x1="1243.20" y1="839.60" x2="1250.40" y2="839.60" stroke="#000" stroke-width="4.2" stroke-linecap="butt"/>
<text transform="translate(1235.40 852.50) scale(0.79 1)" font-size="37" text-anchor="end">200</text>
<line x1="1243.20" y1="755.45" x2="1250.40" y2="755.45" stroke="#000" stroke-width="4.2" stroke-linecap="butt"/>
<text transform="translate(1235.40 768.35) scale(0.79 1)" font-size="37" text-anchor="end">250</text>
<line x1="1243.20" y1="1176.20" x2="1882.00" y2="1176.20" stroke="#000" stroke-width="4.2" stroke-linecap="butt"/>
<line x1="1355.60" y1="1176.20" x2="1355.60" y2="1183.80" stroke="#000" stroke-width="4" stroke-linecap="butt"/>
<text transform="translate(1356.10 1224.20) scale(0.78 1)" font-size="35.8" text-anchor="middle">14</text>
<line x1="1565.50" y1="1176.20" x2="1565.50" y2="1183.80" stroke="#000" stroke-width="4" stroke-linecap="butt"/>
<text transform="translate(1566.00 1224.20) scale(0.78 1)" font-size="35.8" text-anchor="middle">18</text>
<line x1="1775.20" y1="1176.20" x2="1775.20" y2="1183.80" stroke="#000" stroke-width="4" stroke-linecap="butt"/>
<text transform="translate(1775.70 1224.20) scale(0.78 1)" font-size="35.8" text-anchor="middle">21</text>
<rect x="1274.20" y="1009.20" width="28.20" height="168.00" fill="#000"/>
<line x1="1333.20" y1="1165.00" x2="1333.20" y2="1169.50" stroke="#000" stroke-width="4" stroke-linecap="butt"/>
<line x1="1325.60" y1="1165.00" x2="1340.80" y2="1165.00" stroke="#000" stroke-width="4" stroke-linecap="round"/>
<rect x="1320.20" y="1168.50" width="25.80" height="7.70" fill="#0433ff" stroke="#000" stroke-width="2"/>
<line x1="1378.20" y1="1048.80" x2="1378.20" y2="1054.00" stroke="#000" stroke-width="4" stroke-linecap="butt"/>
<line x1="1370.60" y1="1048.80" x2="1385.80" y2="1048.80" stroke="#000" stroke-width="4" stroke-linecap="round"/>
<line x1="1423.20" y1="1082.50" x2="1423.20" y2="1090.70" stroke="#000" stroke-width="4" stroke-linecap="butt"/>
<line x1="1415.60" y1="1082.50" x2="1430.80" y2="1082.50" stroke="#000" stroke-width="4" stroke-linecap="round"/>
<rect x="1484.10" y="1009.20" width="28.20" height="168.00" fill="#000"/>
<line x1="1543.10" y1="1162.80" x2="1543.10" y2="1167.50" stroke="#000" stroke-width="4" stroke-linecap="butt"/>
<line x1="1535.50" y1="1162.80" x2="1550.70" y2="1162.80" stroke="#000" stroke-width="4" stroke-linecap="round"/>
<rect x="1530.10" y="1166.50" width="25.80" height="9.70" fill="#0433ff" stroke="#000" stroke-width="2"/>
<line x1="1588.10" y1="1050.50" x2="1588.10" y2="1057.80" stroke="#000" stroke-width="4" stroke-linecap="butt"/>
<line x1="1580.50" y1="1050.50" x2="1595.70" y2="1050.50" stroke="#000" stroke-width="4" stroke-linecap="round"/>
<line x1="1633.10" y1="1037.50" x2="1633.10" y2="1040.70" stroke="#000" stroke-width="4" stroke-linecap="butt"/>
<line x1="1625.50" y1="1037.50" x2="1640.70" y2="1037.50" stroke="#000" stroke-width="4" stroke-linecap="round"/>
<rect x="1693.80" y="1009.20" width="28.20" height="168.00" fill="#000"/>
<rect x="1739.80" y="1160.70" width="25.80" height="15.50" fill="#0433ff" stroke="#000" stroke-width="2"/>
<line x1="1842.80" y1="812.50" x2="1842.80" y2="837.30" stroke="#000" stroke-width="4" stroke-linecap="butt"/>
<line x1="1835.20" y1="812.50" x2="1850.40" y2="812.50" stroke="#000" stroke-width="4" stroke-linecap="round"/>
<line x1="1250.50" y1="1006.70" x2="1816.00" y2="1006.70" stroke="#000" stroke-width="3.3" stroke-linecap="round" stroke-dasharray="17.6 14.4"/>
<rect x="1365.60" y="1053.00" width="25.60" height="123.20" fill="#ff2600" stroke="#000" stroke-width="2"/>
<rect x="1408.20" y="1088.70" width="30.00" height="89.60" fill="#fff"/>
<path d="M1410.45 1178.30V1090.95H1435.95V1178.30" fill="none" stroke="#ff2600" stroke-width="4.5"/>
<rect x="1575.50" y="1056.80" width="25.60" height="119.40" fill="#ff2600" stroke="#000" stroke-width="2"/>
<rect x="1618.10" y="1038.70" width="30.00" height="139.60" fill="#fff"/>
<path d="M1620.35 1178.30V1040.95H1645.85V1178.30" fill="none" stroke="#ff2600" stroke-width="4.5"/>
<rect x="1785.20" y="965.70" width="25.60" height="211.50" fill="#ff2600" stroke="#000" stroke-width="2"/>
<rect x="1827.80" y="835.30" width="30.00" height="343.00" fill="#fff"/>
<path d="M1830.05 1178.30V837.55H1855.55V1178.30" fill="none" stroke="#ff2600" stroke-width="4.5"/>
<rect x="1273.80" y="752.00" width="48.00" height="26.80" fill="#000"/>
<rect x="1274.80" y="814.80" width="46.00" height="24.70" fill="#0433ff" stroke="#000" stroke-width="2"/>
<rect x="1528.00" y="751.30" width="46.30" height="24.70" fill="#ff2600" stroke="#000" stroke-width="2"/>
<rect x="1528.45" y="813.05" width="45.60" height="24.20" fill="#fff" stroke="#ff2600" stroke-width="4.5"/>
<text transform="translate(1346.20 780.40) scale(0.8 1)" font-size="35.8">HSP23<tspan font-size="26" dy="-12.5">+/+</tspan></text>
<text transform="translate(1346.50 839.20) scale(0.772 1)" font-size="35.8">esc0</text>
<text transform="translate(1599.30 775.80) scale(0.772 1)" font-size="35.8">esc1</text>
<text transform="translate(1599.30 837.50) scale(0.772 1)" font-size="35.8">esc2</text>
<text transform="translate(1142.10 1079.00) rotate(-90) scale(0.83 1)" font-size="33.5">relative growth (%)</text>
<text transform="translate(1549.20 1274.50) scale(0.8 1)" font-size="35.2" text-anchor="middle">[days] at HT</text>
</svg>
</body></html>
